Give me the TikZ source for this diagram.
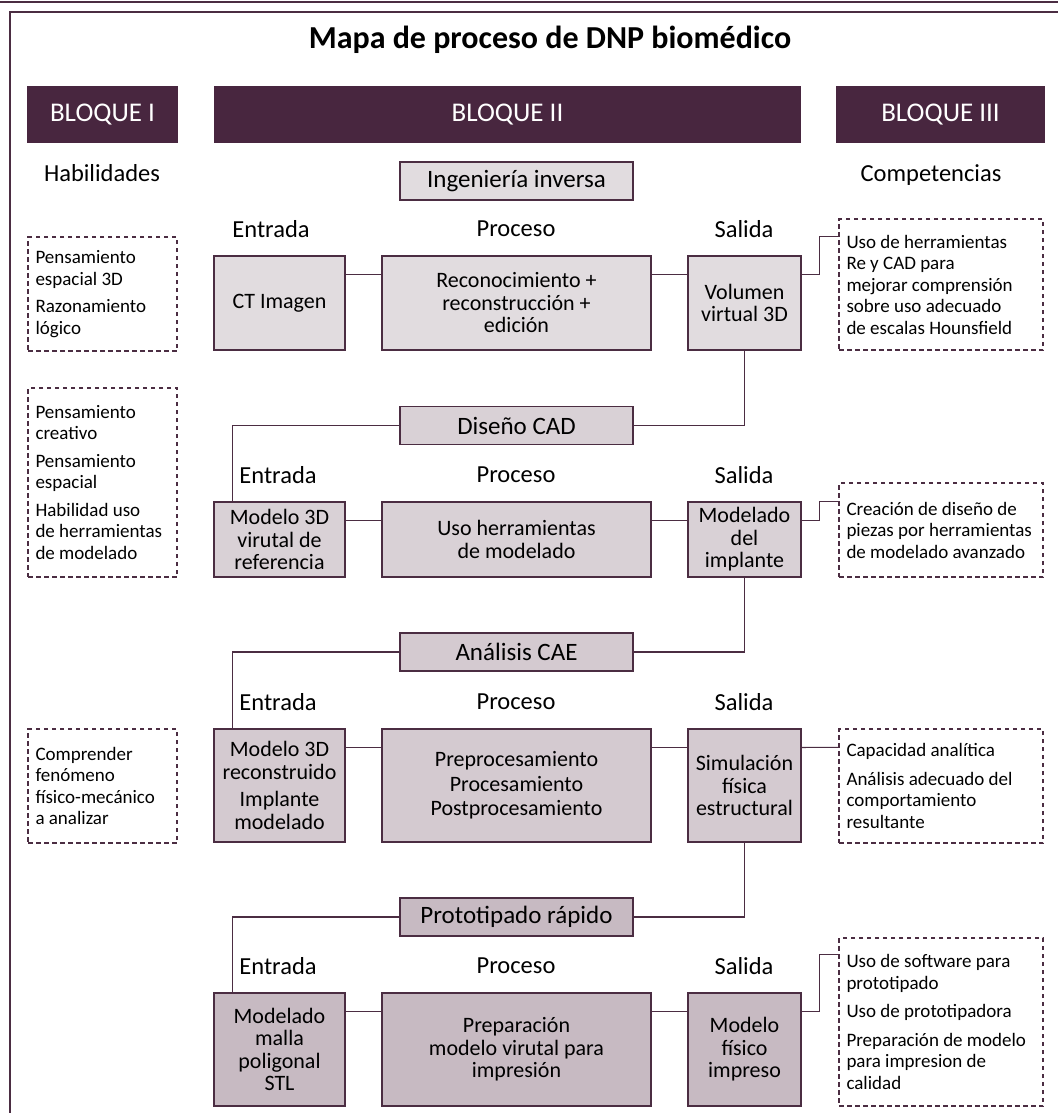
\documentclass[tikz,border=0pt]{standalone}
\usepackage{fontspec}
\setmainfont{Carlito}
\usetikzlibrary{positioning,calc}
\definecolor{ciruela}{HTML}{48263F}
\definecolor{borde}{HTML}{4B2D42}
\definecolor{tono1}{HTML}{E1DCDF}
\definecolor{tono2}{HTML}{D9D1D6}
\definecolor{tono3}{HTML}{D4CAD0}
\definecolor{tono4}{HTML}{C7BAC2}

\begin{document}
\begin{tikzpicture}[x=1pt,y=-1pt,
titulo/.style={font=\fontsize{32}{34}\selectfont\bfseries},
bloque/.style={fill=ciruela,text=white,minimum height=57pt,inner sep=0pt,
  font=\fontsize{27}{29}\selectfont},
rotulo/.style={font=\fontsize{24.5}{26}\selectfont},
caja/.style={draw=borde,line width=1.1pt,inner sep=0pt,align=center,
  font=\fontsize{22}{22.5}\selectfont},
etapa/.style={caja,minimum width=233pt,minimum height=38pt,
  font=\fontsize{25}{26}\selectfont},
entrada/.style={caja,minimum width=131pt},
proceso/.style={caja,minimum width=269pt},
salida/.style={caja,minimum width=113pt},
punteada/.style={draw=borde,line width=1.25pt,dash pattern=on 4.5pt off 3.5pt,
  inner xsep=7.5pt,inner ysep=0pt,align=flush left,
  font=\fontsize{19}{21.5}\selectfont},
izq/.style={punteada,minimum width=149pt,text width=134pt},
der/.style={punteada,minimum width=204pt,text width=189pt},
linea/.style={draw=borde,line width=1.1pt}]
\useasboundingbox (0,0) rectangle (1058,1113);

% marco
\draw[borde,line width=1.2pt] (0,2) -- (1058,2);
\draw[borde,line width=1.3pt] (10,1113) -- (10,12) -- (1058,12);

\node[titulo] (tit) at (550,40) {Mapa de proceso de DNP biomédico};
\node[bloque,minimum width=151pt] (b1) at (102.5,114.5) {BLOQUE I};
\node[bloque,minimum width=587pt] (b2) at (507.5,114.5) {BLOQUE II};
\node[bloque,minimum width=209pt] (b3) at (940.5,114.5) {BLOQUE III};
\node[rotulo] (hab) at (102,173) {Habilidades};
\node[rotulo] (com) at (931,175) {Competencias};

% ingenieria inversa
\node[etapa,fill=tono1] (ing) at (516.5,181) {Ingeniería inversa};
\node[rotulo] (e1) at (271,229) {Entrada};
\node[rotulo] (p1) at (516,229) {Proceso};
\node[rotulo] (s1) at (744,229) {Salida};
\node[entrada,fill=tono1,minimum height=94pt] (ct) at (279.5,303) {CT Imagen};
\node[proceso,fill=tono1,minimum height=94pt] (rec) at (516.5,303)
  {Reconocimiento +\\reconstrucción +\\edición};
\node[salida,fill=tono1,minimum height=94pt] (vol) at (744.5,303)
  {Volumen\\virtual 3D};

% diseno CAD
\node[etapa,fill=tono2] (cad) at (516.5,425.5) {Diseño CAD};
\node[rotulo] (e2) at (278,475) {Entrada};
\node[rotulo] (p2) at (516,475) {Proceso};
\node[rotulo] (s2) at (744,475) {Salida};
\node[entrada,fill=tono2,minimum height=75pt] (mref) at (279.5,539.5)
  {Modelo 3D\\virutal de\\referencia};
\node[proceso,fill=tono2,minimum height=75pt] (herr) at (516.5,539.5)
  {Uso herramientas\\de modelado};
\node[salida,fill=tono2,minimum height=75pt] (impl) at (744.5,539.5)
  {Modelado\\del\\implante};

% analisis CAE
\node[etapa,fill=tono3] (cae) at (516.5,652) {Análisis CAE};
\node[rotulo] (e3) at (278,702) {Entrada};
\node[rotulo] (p3) at (516,702) {Proceso};
\node[rotulo] (s3) at (744,702) {Salida};
\node[entrada,fill=tono3,minimum height=113pt] (mrec) at (279.5,785.5)
  {Modelo 3D\\reconstruido\\[5pt]Implante\\modelado};
\node[proceso,fill=tono3,minimum height=113pt] (pre) at (516.5,785.5)
  {Preprocesamiento\\[2pt]Procesamiento\\[2pt]Postprocesamiento};
\node[salida,fill=tono3,minimum height=113pt] (sim) at (744.5,785.5)
  {Simulación\\física\\estructural};

% prototipado rapido
\node[etapa,fill=tono4] (pro) at (516.5,917) {Prototipado rápido};
\node[rotulo] (e4) at (278,966) {Entrada};
\node[rotulo] (p4) at (516,966) {Proceso};
\node[rotulo] (s4) at (744,966) {Salida};
\node[entrada,fill=tono4,minimum height=113pt] (stl) at (279.5,1049.5)
  {Modelado\\malla\\poligonal\\STL};
\node[proceso,fill=tono4,minimum height=113pt] (prep) at (516.5,1049.5)
  {Preparación\\modelo virutal para\\impresión};
\node[salida,fill=tono4,minimum height=113pt] (fis) at (744.5,1049.5)
  {Modelo\\físico\\impreso};

% habilidades
\node[izq,minimum height=114pt] (h1) at (102.5,294)
  {Pensamiento\\espacial 3D\\[6pt]Razonamiento\\lógico};
\node[izq,minimum height=189pt] (h2) at (102.5,482.5)
  {Pensamiento\\creativo\\[6pt]Pensamiento\\espacial\\[6pt]Habilidad uso\\de herramientas\\de modelado};
\node[izq,minimum height=114pt] (h3) at (102.5,786)
  {Comprender\\fenómeno\\físico-mecánico\\a analizar};

% competencias
\node[der,minimum height=131pt] (c1) at (941,284.5)
  {Uso de herramientas\\Re y CAD para\\mejorar comprensión\\sobre uso adecuado\\de escalas Hounsfield};
\node[der,minimum height=94pt] (c2) at (941,530)
  {Creación de diseño de\\piezas por herramientas\\de modelado avanzado};
\node[der,minimum height=114pt] (c3) at (941,786)
  {Capacidad analítica\\[7pt]Análisis adecuado del\\comportamiento\\resultante};
\node[der,minimum height=168pt] (c4) at (941,1022)
  {Uso de software para\\prototipado\\[7pt]Uso de prototipadora\\[7pt]Preparación de modelo\\para impresion de\\calidad};

% conexiones en cada fila
\draw[linea] ($(ct.north east)+(0,19)$) -- ($(rec.north west)+(0,19)$);
\draw[linea] ($(rec.north east)+(0,19)$) -- ($(vol.north west)+(0,19)$);
\draw[linea] ($(mref.north east)+(0,19)$) -- ($(herr.north west)+(0,19)$);
\draw[linea] ($(herr.north east)+(0,19)$) -- ($(impl.north west)+(0,19)$);
\draw[linea] ($(mrec.north east)+(0,19)$) -- ($(pre.north west)+(0,19)$);
\draw[linea] ($(pre.north east)+(0,19)$) -- ($(sim.north west)+(0,19)$);
\draw[linea] ($(stl.north east)+(0,19)$) -- ($(prep.north west)+(0,19)$);
\draw[linea] ($(prep.north east)+(0,19)$) -- ($(fis.north west)+(0,19)$);

% salidas a competencias
\draw[linea] ($(vol.north east)+(0,19)$) -- ++(18,0) |- ($(c1.north west)+(0,18)$);
\draw[linea] ($(impl.north east)+(0,19)$) -- ++(18,0) |- ($(c2.north west)+(0,19)$);
\draw[linea] ($(sim.north east)+(0,19)$) -- ($(c3.north west)+(0,19)$);
\draw[linea] ($(fis.north east)+(0,19)$) -- ++(18,0) |- ($(c4.north west)+(0,17)$);

% paso de una etapa a la siguiente
\draw[linea] (vol.south) |- (cad.east);
\draw[linea] (cad.west) -| ($(mref.north west)+(19,0)$);
\draw[linea] (impl.south) |- (cae.east);
\draw[linea] (cae.west) -| ($(mrec.north west)+(19,0)$);
\draw[linea] (sim.south) |- (pro.east);
\draw[linea] (pro.west) -| ($(stl.north west)+(19,0)$);
\end{tikzpicture}
\end{document}
